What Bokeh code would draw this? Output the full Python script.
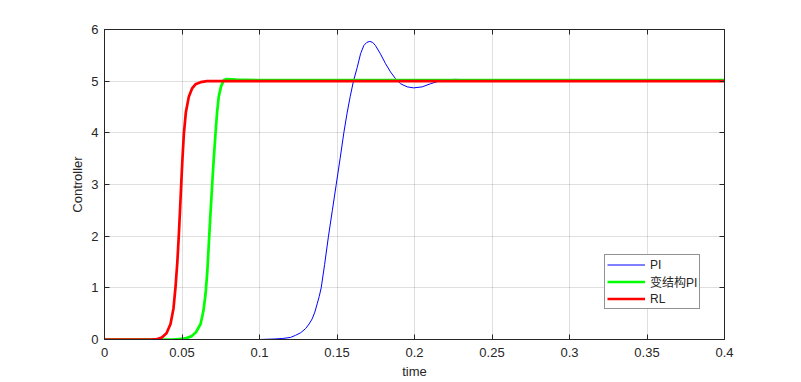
from bokeh.plotting import figure
from bokeh.models import (Range1d, LinearAxis, FixedTicker, Legend, LegendItem)
from bokeh.embed import file_html
from bokeh.resources import INLINE

# ---- data ----
pi_t = [0, 0.09, 0.10, 0.11, 0.115, 0.12, 0.1232, 0.1265, 0.1297, 0.132, 0.134,
        0.1357, 0.1372, 0.1385, 0.1398, 0.142, 0.1445, 0.147, 0.1495, 0.152,
        0.1544, 0.1565, 0.1585, 0.1606, 0.163, 0.1652, 0.1673, 0.1692, 0.1712,
        0.1730, 0.1748, 0.178, 0.1813, 0.1845, 0.1877, 0.191, 0.1953, 0.1995,
        0.205, 0.2103, 0.2146, 0.219, 0.223, 0.2265, 0.230, 0.234, 0.24, 0.30, 0.40]
pi_v = [0, 0, 0.0, 0.01, 0.02, 0.04, 0.08, 0.13, 0.21, 0.30, 0.40,
        0.53, 0.69, 0.83, 1.00, 1.45, 2.00, 2.50, 3.00, 3.50,
        4.00, 4.38, 4.70, 5.00, 5.26, 5.53, 5.69, 5.75, 5.77,
        5.75, 5.69, 5.53, 5.34, 5.18, 5.05, 4.95, 4.89, 4.87,
        4.89, 4.95, 4.99, 5.01, 5.03, 5.035, 5.03, 5.01, 5.00, 5.00, 5.00]

vs_t = [0, 0.044, 0.048, 0.052, 0.056, 0.059, 0.062, 0.0638, 0.0652, 0.0663,
        0.0673, 0.0684, 0.0695, 0.0705, 0.0716, 0.0726, 0.0737, 0.0752, 0.077,
        0.079, 0.085, 0.10, 0.40]
vs_v = [0, 0, 0.01, 0.02, 0.06, 0.14, 0.30, 0.55, 0.88, 1.30,
        1.85, 2.45, 3.01, 3.50, 3.98, 4.38, 4.70, 4.90, 5.02,
        5.04, 5.03, 5.02, 5.02]

rl_t = [0, 0.030, 0.034, 0.037, 0.040, 0.0426, 0.0445, 0.0458, 0.047, 0.048,
        0.0488, 0.0495, 0.0503, 0.0512, 0.0525, 0.0544, 0.0565, 0.0587, 0.062,
        0.066, 0.40]
rl_v = [0, 0, 0.01, 0.04, 0.12, 0.30, 0.60, 1.01, 1.50, 2.05,
        2.55, 3.01, 3.50, 3.98, 4.40, 4.70, 4.86, 4.94, 4.98,
        5.00, 5.00]

series_names = ["PI", "变结构PI", "RL"]
x_ticks = [0, 0.05, 0.1, 0.15, 0.2, 0.25, 0.3, 0.35, 0.4]
x_tick_labels = ["0", "0.05", "0.1", "0.15", "0.2", "0.25", "0.3", "0.35", "0.4"]
y_ticks = [0, 1, 2, 3, 4, 5, 6]
y_tick_labels = ["0", "1", "2", "3", "4", "5", "6"]
x_label = "time"
y_label = "Controller"

FONT = "Liberation Sans"
AX = "#262626"

p = figure(width=800, height=381, output_backend="svg", toolbar_location=None,
           x_range=Range1d(0, 0.4), y_range=Range1d(0, 6),
           min_border_left=104, min_border_right=76, min_border_top=29,
           min_border_bottom=42, background_fill_color="white",
           border_fill_color="white", outline_line_color=AX, outline_line_width=1)

def style_axis(ax, show_labels=True):
    ax.axis_line_color = AX
    ax.major_tick_line_color = AX
    ax.major_tick_in = 5
    ax.major_tick_out = 0
    ax.minor_tick_line_color = None
    ax.major_label_text_font = FONT
    ax.major_label_text_font_size = "13px"
    ax.axis_label_text_font = FONT
    ax.axis_label_text_color = AX
    ax.axis_label_text_font_style = "normal"
    ax.axis_label_text_font_size = "13px"
    if show_labels:
        ax.major_label_text_color = AX
    else:
        ax.major_label_text_color = None
        ax.major_label_standoff = 0

xax = p.xaxis[0]
yax = p.yaxis[0]
xax.ticker = FixedTicker(ticks=x_ticks)
yax.ticker = FixedTicker(ticks=y_ticks)
xax.major_label_overrides = {t: l for t, l in zip(x_ticks, x_tick_labels)}
yax.major_label_overrides = {t: l for t, l in zip(y_ticks, y_tick_labels)}
style_axis(xax)
style_axis(yax)
xax.axis_label = x_label
yax.axis_label = y_label
xax.major_label_standoff = 8
xax.axis_label_standoff = 4
yax.major_label_standoff = 6
yax.axis_label_standoff = 3

top = LinearAxis(ticker=FixedTicker(ticks=x_ticks))
right = LinearAxis(ticker=FixedTicker(ticks=y_ticks))
style_axis(top, False)
style_axis(right, False)
p.add_layout(top, "above")
p.add_layout(right, "right")

p.xgrid.ticker = FixedTicker(ticks=x_ticks)
p.ygrid.ticker = FixedTicker(ticks=y_ticks)
p.grid.grid_line_color = AX
p.grid.grid_line_alpha = 0.15
p.grid.grid_line_width = 1

r1 = p.line(pi_t, pi_v, line_color="#0000ff", line_width=1)
r2 = p.line(vs_t, vs_v, line_color="#00ff00", line_width=2.7)
r3 = p.line(rl_t, rl_v, line_color="#ff0000", line_width=2.7)

legend = Legend(items=[LegendItem(label=series_names[0], renderers=[r1]),
                       LegendItem(label=series_names[1], renderers=[r2]),
                       LegendItem(label=series_names[2], renderers=[r3])],
                location=(500, 30), orientation="vertical")
legend.label_text_font = "Liberation Sans, Noto Sans CJK SC"
legend.label_text_font_size = "12px"
legend.label_text_color = AX
legend.label_height = 15
legend.glyph_height = 15
legend.glyph_width = 38
legend.label_standoff = 5
legend.spacing = 1
legend.padding = 2
legend.margin = 0
legend.border_line_color = AX
legend.border_line_width = 1
legend.background_fill_color = "white"
legend.background_fill_alpha = 1
p.add_layout(legend, "center")

open("out.html", "w").write(file_html(p, INLINE))
